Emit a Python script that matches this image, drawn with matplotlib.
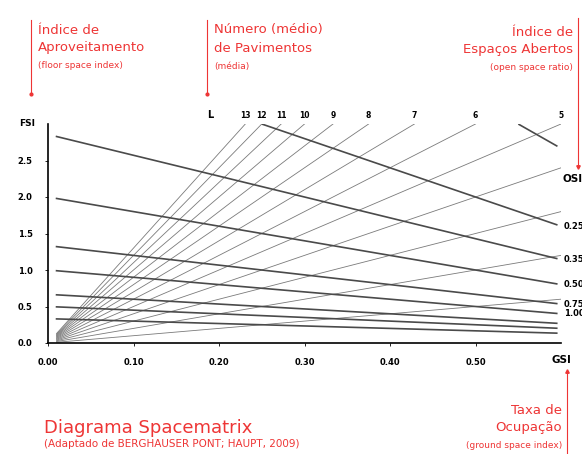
import numpy as np
import matplotlib
matplotlib.use("Agg")
import matplotlib.pyplot as plt

plt.rcParams['font.family'] = ['DejaVu Sans']

# Spacematrix data
floors = [1, 2, 3, 4, 5, 6, 7, 8, 9, 10, 11, 12, 13]  # L = FSI / GSI
floor_labels = [5, 6, 7, 8, 9, 10, 11, 12, 13]         # labelled at the top
osi_values = [0.15, 0.25, 0.35, 0.50, 0.75, 1.00, 1.5, 2.0, 3.0]  # OSI = (1 - GSI) / FSI
osi_labels = ["0.25", "0.35", "0.50", "0.75", "1.00"]
x_ticks = [0.0, 0.1, 0.2, 0.3, 0.4, 0.5]
x_ticklabels = ["0.00", "0.10", "0.20", "0.30", "0.40", "0.50"]
y_ticks = [0.0, 0.5, 1.0, 1.5, 2.0, 2.5]
y_ticklabels = ["0.0", "0.5", "1.0", "1.5", "2.0", "2.5"]

RED = "#ee3535"
W, H = 582, 454
fig = plt.figure(figsize=(W / 100, H / 100), dpi=100)
ax = fig.add_axes([48 / W, 1 - 343 / H, (561 - 48) / W, (343 - 124) / H])
xmax, ymax = 0.6, 3.0
ax.set_xlim(0, xmax)
ax.set_ylim(0, ymax)

# rays of constant L
for L in floors:
    g = np.linspace(0.01, min(xmax, ymax / L), 50)
    ax.plot(g, L * g, color="#7a7a7a", lw=0.6)

# lines of constant OSI
for o in osi_values:
    g = np.linspace(0.01, 0.595, 200)
    f = (1 - g) / o
    m = f <= ymax
    ax.plot(g[m], f[m], color="#4a4a4a", lw=1.2)

for sp in ["top", "right"]:
    ax.spines[sp].set_visible(False)
ax.spines["left"].set_linewidth(1.2)
ax.spines["bottom"].set_linewidth(1.2)
ax.set_xticks(x_ticks)
ax.set_xticklabels(x_ticklabels, fontsize=6, fontweight="bold")
ax.set_yticks(y_ticks)
ax.set_yticklabels(y_ticklabels, fontsize=6, fontweight="bold")
ax.tick_params(length=2, width=0.6, pad=9)
ax.text(xmax, -0.16, "GSI", fontsize=7.5, fontweight="bold", ha="center", va="top")
ax.text(-0.015, ymax, "FSI", fontsize=6.5, fontweight="bold", ha="right", va="center")

# floor labels on top
ax.text(0.19, ymax + 0.12, "L", fontsize=7, fontweight="bold", ha="center", va="center")
for L in floor_labels:
    ax.text(ymax / L, ymax + 0.12, str(L), fontsize=5.5, fontweight="bold", ha="center", va="center")

# OSI labels on right
ax.text(xmax + 0.002, 2.25, "OSI", fontsize=7.5, fontweight="bold", ha="left", va="center")
for lab in osi_labels:
    o = float(lab)
    ax.text(xmax + 0.003, (1 - xmax) / o, lab, fontsize=6, fontweight="bold", ha="left", va="center")

# red annotations
def fx(px):
    return px / W

def fy(py):
    return 1 - py / H

BIG, SMALL = 9.5, 6.5

fig.add_artist(plt.Line2D([fx(31), fx(31)], [fy(20), fy(93)], color=RED, lw=0.8))
fig.add_artist(plt.Line2D([fx(31)], [fy(94)], color=RED, marker="o", ms=2))
fig.text(fx(38), fy(30), "Índice de", color=RED, fontsize=BIG, va="center")
fig.text(fx(38), fy(48), "Aproveitamento", color=RED, fontsize=BIG, va="center")
fig.text(fx(38), fy(65), "(floor space index)", color=RED, fontsize=SMALL, va="center")

fig.add_artist(plt.Line2D([fx(207), fx(207)], [fy(20), fy(93)], color=RED, lw=0.8))
fig.add_artist(plt.Line2D([fx(207)], [fy(94)], color=RED, marker="o", ms=2))
fig.text(fx(214), fy(30), "Número (médio)", color=RED, fontsize=BIG, va="center")
fig.text(fx(214), fy(48), "de Pavimentos", color=RED, fontsize=BIG, va="center")
fig.text(fx(214), fy(66), "(média)", color=RED, fontsize=SMALL, va="center")

fig.add_artist(plt.Line2D([fx(578), fx(578)], [fy(18), fy(166)], color=RED, lw=0.8))
fig.add_artist(plt.Line2D([fx(578)], [fy(167)], color=RED, marker="v", ms=2.5))
fig.text(fx(573), fy(32), "Índice de", color=RED, fontsize=BIG, va="center", ha="right")
fig.text(fx(573), fy(50), "Espaços Abertos", color=RED, fontsize=BIG, va="center", ha="right")
fig.text(fx(573), fy(68), "(open space ratio)", color=RED, fontsize=SMALL, va="center", ha="right")

fig.add_artist(plt.Line2D([fx(567), fx(567)], [fy(372), fy(454)], color=RED, lw=0.8))
fig.add_artist(plt.Line2D([fx(567)], [fy(371)], color=RED, marker="^", ms=2.5))
fig.text(fx(562), fy(410), "Taxa de", color=RED, fontsize=BIG, va="center", ha="right")
fig.text(fx(562), fy(428), "Ocupação", color=RED, fontsize=BIG, va="center", ha="right")
fig.text(fx(562), fy(445), "(ground space index)", color=RED, fontsize=SMALL, va="center", ha="right")

fig.text(fx(44), fy(428), "Diagrama Spacematrix", color=RED, fontsize=13, va="center")
fig.text(fx(44), fy(444), "(Adaptado de BERGHAUSER PONT; HAUPT, 2009)", color=RED, fontsize=7.5, va="center")

fig.savefig("out.png", dpi=100)
